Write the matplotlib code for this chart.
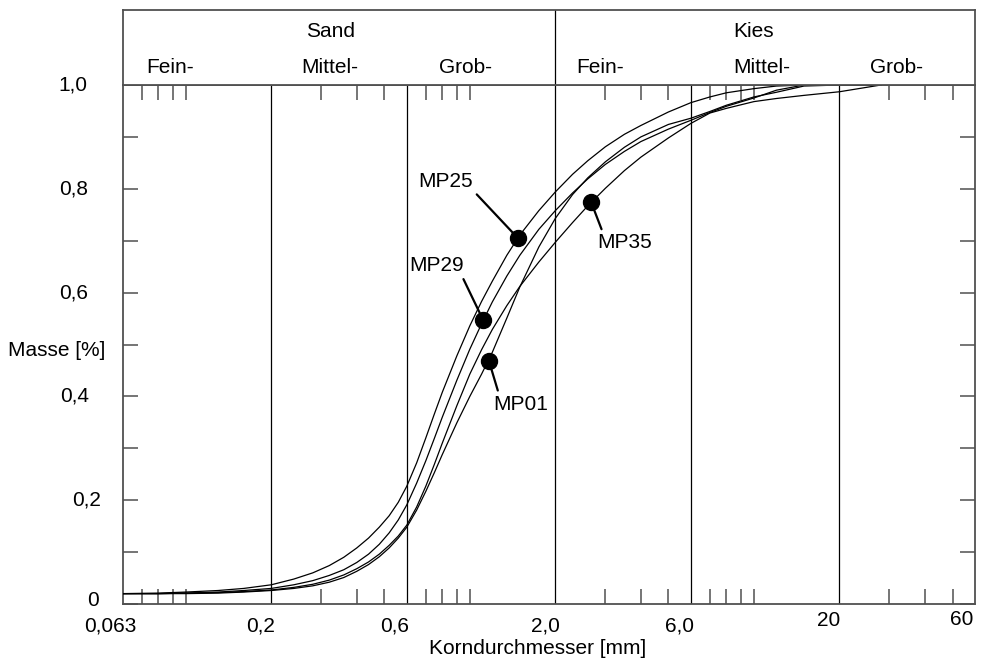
import matplotlib.pyplot as plt
import numpy as np
from matplotlib.transforms import ScaledTranslation

plt.rcParams['font.family'] = ['Liberation Sans', 'DejaVu Sans']

# -------------------------
# Data
# -------------------------
korn_mm = [0.06, 0.08, 0.1, 0.13, 0.16, 0.2, 0.24, 0.28, 0.32, 0.36, 0.4,
           0.44, 0.48, 0.52, 0.56, 0.6, 0.65, 0.7, 0.75, 0.8, 0.9, 1.0,
           1.1, 1.2, 1.35, 1.5, 1.75, 2.0, 2.3, 2.6, 3.0, 3.5, 4.0, 5.0,
           6.0, 7.0, 8.0, 10.0, 12.0, 15.0, 20.0, 28.0]

mp25 = [.020, .021, .023, .026, .030, .037, .048, .060, .074, .090, .108,
        .127, .148, .170, .196, .227, .272, .320, .366, .408, .478, .536,
        .583, .622, .672, .711, .758, .794, .828, .854, .881, .905, .922, .948,
        .966, .977, .985, .993, .998, 1.0, 1.0, 1.0]
mp29 = [.020, .020, .021, .023, .026, .030, .037, .045, .055, .066, .080,
        .096, .115, .137, .162, .191, .233, .276, .319, .360, .431, .491,
        .540, .582, .632, .672, .722, .758, .792, .819, .847, .872, .891, .915,
        .932, .947, .959, .975, .990, 1.0, 1.0, 1.0]
mp01 = [.020, .020, .020, .021, .023, .026, .030, .035, .042, .051, .063,
        .076, .091, .108, .127, .148, .181, .217, .253, .288, .349, .400,
        .443, .485, .551, .611, .688, .743, .789, .821, .852, .880, .900, .924,
        .936, .949, .961, .977, .986, .998, 1.0, 1.0]
mp35 = [.020, .020, .021, .022, .024, .027, .032, .038, .046, .056, .068,
        .081, .096, .113, .131, .152, .187, .227, .269, .310, .382, .443,
        .490, .529, .575, .612, .659, .697, .735, .767, .801, .835, .861, .898,
        .926, .946, .955, .968, .974, .980, .987, 1.0]

proben = ['MP25', 'MP29', 'MP01', 'MP35']
marker_x = [1.476, 1.112, 1.168, 2.67]
marker_y = [0.705, 0.548, 0.468, 0.775]

grenzen = [0.2, 0.6, 6.0, 20.0]          # Fraktionsgrenzen
xtick_pos = [0.06, 0.2, 0.6, 2.0, 6.0, 20.0, 60.0]
xtick_txt = ['0,063', '0,2', '0,6', '2,0', '6,0', '20', '60']
xminor = [0.07, 0.08, 0.09, 0.1, 0.3, 0.4, 0.5, 0.7, 0.8, 0.9, 1.0,
          3.0, 4.0, 5.0, 7.0, 8.0, 9.0, 10.0, 30.0, 40.0, 50.0]
ytick_pos = [0.0, 0.2, 0.4, 0.6, 0.8, 1.0]
ytick_txt = ['0', '0,2', '0,4', '0,6', '0,8', '1,0']

# -------------------------
# Figure setup
# -------------------------
W, H = 982, 664
fig = plt.figure(figsize=(W / 100, H / 100), dpi=100)
L, R, B, T, HT = 122.7, 975, 604, 85, 10
ax = fig.add_axes([L / W, (H - B) / H, (R - L) / W, (B - T) / H])
hax = fig.add_axes([L / W, (H - T) / H, (R - L) / W, (T - HT) / H], sharex=ax)

frame_col = '#505050'
fs = 15

for a in (ax, hax):
    for s in a.spines.values():
        s.set_color(frame_col)
        s.set_linewidth(1.3)

ax.set_xscale('log')
ax.set_xlim(0.06, 60)
ax.set_ylim(0, 1)

# curves
for vals in (mp25, mp29, mp01, mp35):
    ax.plot(korn_mm, vals, color='black', lw=0.9, zorder=3)

# fraction boundaries
for g in grenzen:
    ax.axvline(g, color='black', lw=0.9, zorder=2)
ax.axvline(2.0, color='black', lw=0.9, zorder=2)
hax.axvline(2.0, color='black', lw=0.9)

# ticks
ax.set_xticks([], minor=False)
ax.set_xticks(xminor, minor=True)
ax.xaxis.set_minor_formatter(plt.NullFormatter())
ax.set_yticks(np.arange(0, 1.01, 0.1))
ax.set_yticklabels([])
ax.tick_params(axis='both', which='both', direction='in', length=11,
               width=1.1, color=frame_col, top=True, right=True)
ax.tick_params(axis='x', which='major', length=0)
hax.tick_params(axis='both', which='both', length=0,
                labelbottom=False, labelleft=False)
hax.set_ylim(0, 1)

# tick labels as plain text (pixel shifts)
xshift = [(-12, 0), (-11, 0), (-12, 0), (-10, 0), (-11, 0), (-11, 5), (-13, 6)]
for xp, tx, (dx, dy) in zip(xtick_pos, xtick_txt, xshift):
    tr = ax.get_xaxis_transform() + ScaledTranslation(dx / 100, (dy - 12) / 100, fig.dpi_scale_trans)
    ax.text(xp, 0, tx, transform=tr, ha='center', va='top', fontsize=fs)

yshift = [(-24, 3), (-22, 0), (-34, 0), (-35, 0), (-35, 0), (-35, 0)]
for yp, tx, (dx, dy) in zip(ytick_pos, ytick_txt, yshift):
    tr = ax.get_yaxis_transform() + ScaledTranslation(dx / 100, dy / 100, fig.dpi_scale_trans)
    ax.text(0, yp, tx, transform=tr, ha='right', va='center', fontsize=fs)

ax.text(0.4867, -0.085, 'Korndurchmesser [mm]', transform=ax.transAxes,
        ha='center', va='center', fontsize=fs)
ax.text(-0.1346, 0.4875, 'Masse [%]', transform=ax.transAxes,
        ha='left', va='center', fontsize=fs)

# header
hax.text(0.2444, 0.636, 'Sand', transform=hax.transAxes, ha='center', va='baseline', fontsize=fs)
hax.text(0.7399, 0.636, 'Kies', transform=hax.transAxes, ha='center', va='baseline', fontsize=fs)
for xf, tx in zip([0.0551, 0.2428, 0.4026, 0.5602, 0.7497, 0.9081],
                  ['Fein-', 'Mittel-', 'Grob-', 'Fein-', 'Mittel-', 'Grob-']):
    hax.text(xf, 0.16, tx, transform=hax.transAxes, ha='center', va='baseline', fontsize=fs)

# sample markers + leader lines
offsets = [(-72, 57), (-46, 54), (32, -43), (34, -41)]
relpos = [(1.0, 0.0), (0.95, 0.0), (0.1, 1.0), (0.1, 1.0)]
for name, mx, my, off, rp in zip(proben, marker_x, marker_y, offsets, relpos):
    ax.plot(mx, my, 'o', color='black', ms=11.5, zorder=5)
    ax.annotate(name, xy=(mx, my), xytext=off, textcoords='offset pixels',
                ha='center', va='center', fontsize=fs,
                arrowprops=dict(arrowstyle='-', color='black', lw=1.6,
                                relpos=rp, shrinkA=1, shrinkB=0))

fig.savefig('out.png', dpi=100)
